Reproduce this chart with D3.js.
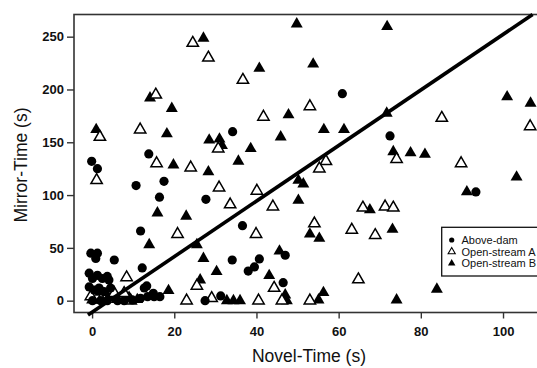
<!DOCTYPE html>
<html>
<head>
<meta charset="utf-8">
<script src="https://cdn.jsdelivr.net/npm/d3@7/dist/d3.min.js"></script>
<style>
html,body{margin:0;padding:0;background:#fff;}
svg{display:block;}
</style>
</head>
<body>
<svg id="chart" width="537" height="368"></svg>
<script>
// ---- data ----
const xTicks = [0, 20, 40, 60, 80, 100];
const yTicks = [0, 50, 100, 150, 200, 250];
const seriesNames = ["Above-dam", "Open-stream A", "Open-stream B"];
const xLabel = "Novel-Time (s)";
const yLabel = "Mirror-Time (s)";

const aboveDam = [[-0.1,132],[1.3,125],[10.7,109],[13.8,139],[17.5,113],[16.4,98],[27.7,96],[34.2,160],[72.5,156],[93.4,103],[60.9,196],[11.8,66],[36.6,71],[34.1,38.5],[38,28],[39.5,32],[40.7,39.5],[47,43],[46.5,17],[31.3,4.5],[27.5,0],[14.9,7],[16.5,3.8],[13.3,14],[12.2,31],[5.4,38.5],[-0.3,45],[0.9,40],[1.3,45],[-0.7,26],[0.1,21],[1.3,24],[2.5,21],[3.7,23],[4.1,19.6],[-0.7,13],[0.5,10],[1.7,12],[2.9,8.5],[4.5,12],[0.1,0],[2.1,0],[3.7,0],[6.2,0],[7.8,0],[9.8,0.7],[11.8,2.3],[12.7,12],[13.5,3.8],[15.1,3.8]];

const openStreamA = [[24.5,244],[28.3,230],[15.5,195],[36.7,209],[41.7,174],[53,184],[85.1,173],[106.6,165],[1.9,155],[11.7,162],[15.7,130],[24,126],[1.1,114],[30.7,144],[30.9,107],[56.9,132],[55.3,125],[33.6,91],[44,89],[40.1,104],[74.1,134],[89.8,130],[65.9,88],[71.3,89],[73.3,88],[20.8,63],[8.4,22],[25.5,14],[23,0],[29.1,2.3],[54.1,73],[63.2,67],[39.9,63],[44.3,12],[40.5,0],[46.2,0],[53,0],[64.8,20],[68.9,62],[7.8,7],[5.4,7],[-0.3,4],[9.4,0],[2.2,1]];

const openStreamB = [[27.1,248.5],[14.1,192],[19.4,182],[49.8,262],[40.7,220],[53.8,224],[47.8,176],[71.8,259.5],[101,193],[106.7,187],[71.7,177.5],[1,162],[18.2,158],[19.8,128.5],[28.5,152],[31,153],[28.3,122],[15.9,83],[22.9,80],[31.6,147],[45.9,155],[56.4,162],[61.3,162],[38.6,144],[35.6,132],[50.2,114],[51.4,110.5],[50.2,95],[73.3,141],[77.5,140],[81,138.6],[103.3,117],[91.2,103],[67.6,86],[13.9,53],[25.5,53],[27.1,40],[30.3,27.5],[26.3,19.6],[18.6,9.5],[53,63],[55.3,59],[45.6,47],[43.1,23.7],[47,5.4],[47.4,0],[56.3,7.6],[55.1,0.7],[32.8,0],[34.4,0],[36,0],[73.1,67.6],[74.1,0.7],[83.9,10.8],[0,0.5],[2,8],[4,3],[6,1],[9,3],[11,1]];

const fitSlope = 2.63;
const fitIntercept = -10.9;
const fitRange = [-1, 107.2];

// ---- layout ----
const svg = d3.select("#chart");
const L = 74, T = 14.5, R = 540, B = 312.5;
const x = d3.scaleLinear().domain([-4.4, 109]).range([L, R]);
const y = d3.scaleLinear().domain([-11.2, 271]).range([B, T]);
const font = "'Liberation Sans', Arial, Helvetica, sans-serif";

// frame
svg.append("rect").attr("x", L).attr("y", T).attr("width", R - L).attr("height", B - T)
  .attr("fill", "none").attr("stroke", "#333").attr("stroke-width", 1.6);

// axes
const gx = svg.append("g").attr("transform", `translate(0,${B})`)
  .call(d3.axisBottom(x).tickValues(xTicks).tickSize(6).tickPadding(8));
const gy = svg.append("g").attr("transform", `translate(${L},0)`)
  .call(d3.axisLeft(y).tickValues(yTicks).tickSize(7).tickPadding(3));
[gx, gy].forEach(g => {
  g.select(".domain").remove();
  g.selectAll(".tick line").attr("stroke", "#333").attr("stroke-width", 1.4);
  g.selectAll(".tick text").attr("fill", "#111").style("font-family", font)
    .style("font-size", "13px").style("font-weight", "bold");
});

// axis titles
svg.append("text").attr("x", 309).attr("y", 362).attr("text-anchor", "middle")
  .style("font-family", font).style("font-size", "17.5px").attr("fill", "#111").text(xLabel);
svg.append("text").attr("transform", "translate(27,165) rotate(-90)").attr("text-anchor", "middle")
  .style("font-family", font).style("font-size", "17.5px").attr("fill", "#111").text(yLabel);

// points
const tri = d3.symbol().type(d3.symbolTriangle).size(62);
const triOpen = d3.symbol().type(d3.symbolTriangle).size(56);
const pts = svg.append("g");
pts.selectAll("path.b").data(openStreamB).join("path").attr("class", "b")
  .attr("d", tri).attr("transform", d => `translate(${x(d[0])},${y(d[1])})`).attr("fill", "#000");
pts.selectAll("path.a").data(openStreamA).join("path").attr("class", "a")
  .attr("d", triOpen).attr("transform", d => `translate(${x(d[0])},${y(d[1])})`)
  .attr("fill", "#fff").attr("stroke", "#000").attr("stroke-width", 1.5);
pts.selectAll("circle").data(aboveDam).join("circle")
  .attr("cx", d => x(d[0])).attr("cy", d => y(d[1])).attr("r", 4.6).attr("fill", "#000");

// fit line
svg.append("line")
  .attr("x1", x(fitRange[0])).attr("y1", y(fitSlope * fitRange[0] + fitIntercept))
  .attr("x2", x(fitRange[1])).attr("y2", y(fitSlope * fitRange[1] + fitIntercept))
  .attr("stroke", "#000").attr("stroke-width", 3.6);

// legend
const lg = svg.append("g");
lg.append("rect").attr("x", 441.7).attr("y", 227.3).attr("width", 110).attr("height", 48.7)
  .attr("fill", "#fff").attr("stroke", "#111").attr("stroke-width", 1.3);
const ly = [240, 251.7, 263.3];
lg.append("circle").attr("cx", 451.7).attr("cy", ly[0]).attr("r", 2.6).attr("fill", "#000");
lg.append("path").attr("d", d3.symbol().type(d3.symbolTriangle).size(22))
  .attr("transform", `translate(451.7,${ly[1]})`).attr("fill", "#fff").attr("stroke", "#000").attr("stroke-width", 1.1);
lg.append("path").attr("d", d3.symbol().type(d3.symbolTriangle).size(24))
  .attr("transform", `translate(451.7,${ly[2]})`).attr("fill", "#000");
seriesNames.forEach((n, i) => {
  lg.append("text").attr("x", 461.5).attr("y", ly[i]).attr("dy", "0.36em")
    .style("font-family", font).style("font-size", "11px").attr("fill", "#111").text(n);
});
</script>
</body>
</html>
